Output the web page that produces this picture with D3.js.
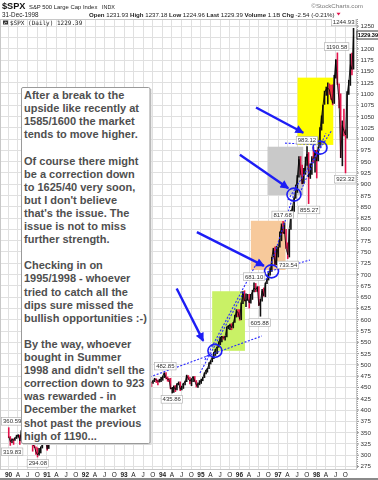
<!DOCTYPE html>
<html>
<head>
<meta charset="utf-8">
<script src="https://cdn.jsdelivr.net/npm/d3@7"></script>
<style>
  html, body { margin: 0; padding: 0; background: #fff; }
  svg { display: block; font-family: "Liberation Sans", Arial, sans-serif; }
</style>
</head>
<body>
<svg id="chart" width="378" height="480"></svg>
<script>
// $SPX daily, 1990-1998, summarised as half-month bars (1st-15th, 16th-end)
const highs = [
  360.59,341,336,336,338,344,345,344,354,363,368,365,369.78,368,356,335,325,318,316,315,318,323,330,331,     // 1990
  330,345,370,372,376,378,385,391,385,390,390,385,384,388,392,396,396,389,392,394,398,392,390,418,          // 1991
  420,420,418,417,413,410,418,417,419,420,416,407,418,425,425,421,422,426,418,419,423,431,436,441,          // 1992
  436,442,450,446,456,455,449,449,445,453,453,452,451,451,452,464,465,462,465,470,469,466,468,472,          // 1993
  475,482,482.85,473,470,470,450,453,454,458,462,462,452,459,464,477,476,472,469,474,474,465,460,465,       // 1994
  468,472,482,488,492,505,509,516,528,534,539,551,561,563,563,563,584,587,590,591,594,610,622,622,          // 1995
  622,637,662,664,657,656,656,656,665,681.10,680,673,673,645,667,670,681,689,706,714,738,758,761,762,       // 1996
  760,794,812,817.68,814,800,770,800,842,851,870,898,919,961,961,942,935,960,983.12,970,945,961,982,975,    // 1997
  975,982,1025,1051,1075,1106,1115,1124,1122,1119,1120,1141,1175,1190.58,1122,1100,1040,1066,1020,1105,1130,1188,1190,1244.93 // 1998
];
const lows = [
  337,319.83,326,322,331,335,338,322,330,352,360,352,355,352,330,307,315,300,294.08,298,303,314,322,324,
  309,313,342,360,365,364,369,373,371,371,377,368,370,378,378,375,383,382,376,384,392,375,371,380,
  411,412,407,407,400,402,394,407,409,410,402,400,407,411,414,409,413,412,402,409,412,420,428,429,
  425,431,440,429,442,447,437,433,436,437,442,442,441,440,445,450,457,450,457,461,459,454,460,461,
  464,470,467,462,461,445,435.86,437,439,443,454,441,443,446,454,461,466,456,452,461,461,449,448,454,
  457,463,470,478,482,490,500,505,512,519,523,537,543,549,555,553,560,578,576,576,580,592,604,605,
  597,598,634,640,627,641,624,635,643,660,660,661,630,605.88,639,650,649,678,686,697,705,737,720,720,
  737,759,773,789,789,756,733.54,737,798,825,838,867,880,914,920,899,900,920,940,855.27,911,920,946,925,
  912,950,980,1018,1033,1075,1095,1076,1097,1086,1074,1077,1133,1119,1067,957,939,1005,923.32,1000,1097,1117,1140,1153
];
const closes = [
  340,329.1,334,331.9,338,339.9,344,330.8,354,361.2,362,358,368,356,335,322.6,318,306,300,304,317,322,327,330.2,
  312,343.9,369,367,373,375,381,375,372,389.8,382,371,383,387.8,389,395.4,386,388,391,392.5,397,375.2,384,417.1,
  420,408.8,412,412.7,405,403.7,416,414.9,413,415.4,403,408.1,417,424.2,420,414,419,417.8,409,418.7,422,431.4,434,435.7,
  432,438.8,445,443.4,449,451.7,448,440.2,440,450.2,447,450.5,449,448.1,452,463.6,462,458.9,464,467.8,466,461.8,465,466.5,
  474,481.6,470,467.1,467,445.8,447,450.9,444,456.5,459,444.3,452,458.3,461,475.5,468,462.7,468,472.4,463,453.7,455,459.3,
  465,470.4,481,487.4,491,500.7,509,514.7,525,533.4,539,544.8,560,562.1,558,561.9,583,584.4,587,581.5,592,605.4,617,615.9,
  600,636,658,640.4,641,645.5,636,654.2,661,669.1,666,670.6,629.8,639.9,663,651.9,680,687.3,705,705.3,737,757,720.9,740.7,
  759,786.2,808,790.8,793,757.1,743,801.3,837,848.3,869.6,885.1,917,954.3,924,899.5,923,947.3,966,914.6,928,955.4,953,970.4,
  950,980.3,1020,1049.3,1073,1101.8,1110,1111.8,1108,1090.8,1078,1133.8,1175,1120.7,1084,957.3,1029,1017,1008,1098.7,1125,1163.6,1153,1229.39
];

// right-hand price axis
const priceTicks = [275,300,325,350,375,400,425,450,475,500,525,550,575,600,625,650,675,700,725,750,
                    775,800,825,850,875,900,925,950,975,1000,1025,1050,1075,1100,1125,1150,1175,1200,1225,1250];

// swing highs / lows that carry a price tag
const priceTags = [
  { date: "1990-01-02", value: 360.59, side: "above" },
  { date: "1990-01-30", value: 319.83, side: "below" },
  { date: "1990-10-11", value: 294.08, side: "below" },
  { date: "1994-02-02", value: 482.85, side: "above" },
  { date: "1994-04-04", value: 435.86, side: "below" },
  { date: "1996-05-24", value: 681.10, side: "above" },
  { date: "1996-07-16", value: 605.88, side: "below" },
  { date: "1997-02-18", value: 817.68, side: "above" },
  { date: "1997-04-11", value: 733.54, side: "below" },
  { date: "1997-10-07", value: 983.12, side: "above" },
  { date: "1997-10-28", value: 855.27, side: "below" },
  { date: "1998-07-17", value: 1190.58, side: "above" },
  { date: "1998-10-08", value: 923.32, side: "below" },
  { date: "1998-12-29", value: 1244.93, side: "above" }
];

// shaded phases of the advance
const phaseBoxes = [
  { from: "1995-04-22", to: "1996-02-27", lo: 530, hi: 662, color: "#c9f166" },
  { from: "1996-04-23", to: "1997-03-18", lo: 709, hi: 818, color: "#f7c99b" },
  { from: "1996-09-28", to: "1997-09-02", lo: 875, hi: 982, color: "#c9c9c9" },
  { from: "1997-07-10", to: "1998-06-14", lo: 986, hi: 1135, color: "#ffff00" }
];

// breakout points
const breakouts = [
  { date: "1995-05-18", value: 530 },
  { date: "1996-11-05", value: 706 },
  { date: "1997-06-06", value: 876 },
  { date: "1998-02-08", value: 980 }
];

// pointers to the breakouts
const pointers = [
  { from: ["1994-05-20", 668], to: ["1995-01-27", 552] },
  { from: ["1994-11-28", 793], to: ["1996-08-25", 718] },
  { from: ["1996-01-10", 964], to: ["1997-04-13", 890] },
  { from: ["1996-06-11", 1069], to: ["1997-09-02", 1013] }
];

// trend lines
const trendLines = [
  { from: ["1993-09-08", 472], to: ["1996-08-06", 563] },
  { from: ["1994-12-27", 481], to: ["1996-02-20", 662] },
  { from: ["1995-02-12", 510], to: ["1996-06-17", 724] },
  { from: ["1996-04-14", 694], to: ["1997-11-04", 731] },
  { from: ["1996-09-13", 687], to: ["1997-07-03", 897] },
  { from: ["1997-04-10", 864], to: ["1998-06-01", 1019] },
  { from: ["1997-03-13", 990], to: ["1998-02-26", 986] },
  { from: ["1997-08-01", 879], to: ["1998-04-05", 1012] }
];

const noteLines = [
  "After a break to the",
  "upside like recently at",
  "1585/1600 the market",
  "tends to move higher.",
  "",
  "Of course there might",
  "be a correction down",
  "to 1625/40 very soon,",
  "but I don't believe",
  "that's the issue. The",
  "issue is not to miss",
  "further strength.",
  "",
  "Checking in on",
  "1995/1998 - whoever",
  "tried to catch all the",
  "dips sure missed the",
  "bullish opportunities :-)",
  "",
  "By the way, whoever",
  "bought in Summer",
  "1998 and didn't sell the",
  "correction down to 923",
  "was rewarded - in",
  "December the market",
  "shot past the previous",
  "high of 1190..."
];

const lastPrice = 1229.39;

// ---------------------------------------------------------------
const svg = d3.select("#chart");
const parse = d3.timeParse("%Y-%m-%d");
const plot = { left: 0, right: 357, top: 19, bottom: 469 };

const x = d3.scaleTime()
  .domain([new Date(1990, 0, 1), new Date(1998, 0, 1)])
  .range([8, 316]);
const y = d3.scaleLinear().domain([275, 1250]).range([466, 25.7]);

const barDate = i => new Date(1990, Math.floor(i / 2), i % 2 ? 23 : 8);
const bars = closes.map((c, i) => ({
  date: barDate(i), high: highs[i], low: lows[i], close: c,
  up: i === 0 ? false : c >= closes[i - 1]
}));

svg.append("rect").attr("width", 378).attr("height", 480).attr("fill", "#fff");

svg.append("defs").append("clipPath").attr("id", "plotClip")
  .append("rect")
  .attr("x", plot.left).attr("y", plot.top)
  .attr("width", plot.right - plot.left).attr("height", plot.bottom - plot.top);

// quarter ticks for the time axis
const quarterTicks = d3.timeMonth.every(3)
  .range(new Date(1990, 0, 1), new Date(1999, 0, 1));

// grid
const grid = svg.append("g").attr("shape-rendering", "crispEdges");
grid.selectAll("line.h").data(priceTicks).join("line")
  .attr("x1", plot.left).attr("x2", plot.right)
  .attr("y1", d => Math.round(y(d)) + 0.5).attr("y2", d => Math.round(y(d)) + 0.5)
  .attr("stroke", "#e0e0e0");
grid.selectAll("line.v").data(quarterTicks).join("line")
  .attr("x1", d => Math.round(x(d)) + 0.5).attr("x2", d => Math.round(x(d)) + 0.5)
  .attr("y1", plot.top).attr("y2", plot.bottom)
  .attr("stroke", "#e0e0e0");

// frame
svg.append("rect")
  .attr("x", plot.left + 0.5).attr("y", plot.top + 0.5)
  .attr("width", plot.right - plot.left - 1).attr("height", plot.bottom - plot.top)
  .attr("fill", "none").attr("stroke", "#c8c8c8");

const g = svg.append("g").attr("clip-path", "url(#plotClip)");

// shaded phases
g.selectAll("rect.phase").data(phaseBoxes).join("rect")
  .attr("x", d => x(parse(d.from)))
  .attr("y", d => y(d.hi))
  .attr("width", d => x(parse(d.to)) - x(parse(d.from)))
  .attr("height", d => y(d.lo) - y(d.hi))
  .attr("fill", d => d.color)
  .style("mix-blend-mode", "multiply");

// price bars
g.selectAll("line.bar").data(bars).join("line")
  .attr("x1", d => x(d.date)).attr("x2", d => x(d.date))
  .attr("y1", d => y(d.low)).attr("y2", d => y(d.high))
  .attr("stroke", d => d.up ? "#111" : "#e3124a")
  .attr("stroke-width", 1.6);
g.append("path").datum(bars)
  .attr("d", d3.line().x(d => x(d.date)).y(d => y(d.close)))
  .attr("fill", "none").attr("stroke", "#000").attr("stroke-width", 0.8);

// trend lines
g.selectAll("line.trend").data(trendLines).join("line")
  .attr("x1", d => x(parse(d.from[0]))).attr("y1", d => y(d.from[1]))
  .attr("x2", d => x(parse(d.to[0]))).attr("y2", d => y(d.to[1]))
  .attr("stroke", "#2b2bff").attr("stroke-width", 1.1)
  .attr("stroke-dasharray", "2,1.6");

// breakout rings
g.selectAll("ellipse.ring").data(breakouts).join("ellipse")
  .attr("cx", d => x(parse(d.date))).attr("cy", d => y(d.value))
  .attr("rx", 7).attr("ry", 6.5)
  .attr("fill", "none").attr("stroke", "#1d1df5").attr("stroke-width", 1.6);

// pointers
const defs = svg.select("defs");
defs.append("marker").attr("id", "head")
  .attr("viewBox", "0 0 10 10").attr("refX", 9).attr("refY", 5)
  .attr("markerWidth", 4).attr("markerHeight", 3.6)
  .attr("markerUnits", "strokeWidth").attr("orient", "auto")
  .append("path").attr("d", "M0,0 L10,5 L0,10 z").attr("fill", "#1d1df5");
g.selectAll("line.pointer").data(pointers).join("line")
  .attr("x1", d => x(parse(d.from[0]))).attr("y1", d => y(d.from[1]))
  .attr("x2", d => x(parse(d.to[0]))).attr("y2", d => y(d.to[1]))
  .attr("stroke", "#1d1df5").attr("stroke-width", 2.4)
  .attr("marker-end", "url(#head)");

// price tags
const tags = g.selectAll("g.tag").data(priceTags).join("g");
tags.each(function (d) {
  const grp = d3.select(this);
  const px = x(parse(d.date));
  const py = y(d.value) + (d.side === "above" ? -6 : 6);
  const t = grp.append("text")
    .attr("font-size", 6).attr("fill", "#333")
    .attr("text-anchor", "middle").attr("dy", "0.35em")
    .text(d.value.toFixed(2));
  const w = t.node().getComputedTextLength() + 3;
  const cx = Math.max(plot.left + w / 2 + 1.5, Math.min(px, plot.right - w / 2 - 1));
  t.attr("x", cx).attr("y", py);
  grp.insert("rect", "text")
    .attr("x", cx - w / 2).attr("y", py - 3.8)
    .attr("width", w).attr("height", 7.6)
    .attr("fill", "#fff").attr("stroke", "#a8a8a8").attr("stroke-width", 0.6);
});

// commentary box
const note = svg.append("g");
note.append("rect").attr("x", 23).attr("y", 89).attr("width", 128.5).attr("height", 356)
  .attr("fill", "#d8d8d8");
note.append("rect").attr("x", 21.5).attr("y", 87.5).attr("width", 128.5).attr("height", 356)
  .attr("rx", 1.5).attr("fill", "#fff").attr("stroke", "#9a9a9a");
note.selectAll("text").data(noteLines).join("text")
  .attr("x", 24).attr("y", (d, i) => 99 + i * 13.1)
  .attr("font-size", 11).attr("font-weight", "bold").attr("fill", "#4f4f4f")
  .text(d => d);

// right axis (the tick hidden behind the last-price tag is left unlabelled)
svg.append("line").attr("x1", plot.right + 0.5).attr("x2", plot.right + 0.5)
  .attr("y1", plot.top).attr("y2", plot.bottom)
  .attr("stroke", "#9a9a9a").attr("stroke-dasharray", "1,1");
const yAxis = svg.append("g")
  .attr("transform", `translate(${plot.right},0)`)
  .call(d3.axisRight(y).tickValues(priceTicks).tickSize(2).tickPadding(1.5)
    .tickFormat(d => Math.abs(y(d) - y(lastPrice)) < 7 ? "" : d3.format("d")(d)));
yAxis.select(".domain").remove();
yAxis.selectAll("line").attr("stroke", "#999");
yAxis.selectAll("text").attr("font-size", 6.2).attr("fill", "#333")
  .attr("font-family", "'Liberation Sans', Arial, sans-serif");

// last price tag
const lp = svg.append("g");
lp.append("rect").attr("x", 357).attr("y", y(lastPrice) - 4).attr("width", 22).attr("height", 8)
  .attr("fill", "#fff").attr("stroke", "#000").attr("stroke-width", 0.8);
lp.append("text").attr("x", 357.8).attr("y", y(lastPrice)).attr("dy", "0.35em")
  .attr("font-size", 5.6).attr("font-weight", "bold").attr("fill", "#000")
  .text(lastPrice.toFixed(2));

// time axis
const monthLetter = d3.timeFormat("%b");
const xAxis = svg.append("g")
  .attr("transform", `translate(0,${plot.bottom})`)
  .call(d3.axisBottom(x).tickValues(quarterTicks).tickSize(0).tickPadding(3)
    .tickFormat(d => d.getMonth() === 0 ? d3.timeFormat("%y")(d) : monthLetter(d)[0]));
xAxis.select(".domain").remove();
xAxis.selectAll("text")
  .attr("font-size", 6.5).attr("fill", "#222")
  .attr("font-family", "'Liberation Sans', Arial, sans-serif")
  .attr("font-weight", d => d.getMonth() === 0 ? "bold" : "normal");
svg.append("rect").attr("x", 0).attr("y", 478).attr("width", 378).attr("height", 2).attr("fill", "#8a8a8a");

// header
const hdr = svg.append("g");
hdr.append("text").attr("x", 2).attr("y", 9).attr("font-size", 9.2).attr("font-weight", "bold")
  .attr("fill", "#111").text("$SPX");
hdr.append("text").attr("x", 29).attr("y", 9).attr("font-size", 5.9).attr("fill", "#222")
  .text("S&P 500 Large Cap Index");
hdr.append("text").attr("x", 102).attr("y", 9).attr("font-size", 5.4).attr("fill", "#222")
  .text("INDX");
hdr.append("text").attr("x", 363).attr("y", 7.5).attr("font-size", 6.2).attr("fill", "#777")
  .attr("text-anchor", "end").text("\u00A9StockCharts.com");
hdr.append("text").attr("x", 2).attr("y", 16.5).attr("font-size", 6.3).attr("fill", "#222")
  .text("31-Dec-1998");

const quote = [
  ["Open", " 1231.93 "], ["High", " 1237.18 "], ["Low", " 1224.96 "],
  ["Last", " 1229.39 "], ["Volume", " 1.1B "], ["Chg", " -2.54 (-0.21%)"]
];
const qt = hdr.append("text").attr("x", 89).attr("y", 16.5).attr("font-size", 6.1).attr("fill", "#222");
quote.forEach(([k, v]) => {
  qt.append("tspan").attr("font-weight", "bold").text(k);
  qt.append("tspan").text(v);
});
const qEnd = 89 + qt.node().getComputedTextLength();
hdr.append("path")
  .attr("d", `M${qEnd + 2},12.8 L${qEnd + 6},12.8 L${qEnd + 4},15.6 z`)
  .attr("fill", "#e3124a");

// legend row inside the plot
const leg = svg.append("g");
leg.append("rect").attr("x", 3).attr("y", 20.5).attr("width", 5).attr("height", 4).attr("fill", "#333");
leg.append("path").attr("d", "M4,24 L5.5,22 L7,23").attr("stroke", "#fff").attr("stroke-width", 0.7).attr("fill", "none");
leg.append("text").attr("x", 10).attr("y", 25)
  .attr("font-family", "'DejaVu Sans Mono', 'Liberation Mono', monospace")
  .attr("font-size", 6).attr("fill", "#222")
  .text("$SPX (Daily) " + lastPrice.toFixed(2));
</script>
</body>
</html>
